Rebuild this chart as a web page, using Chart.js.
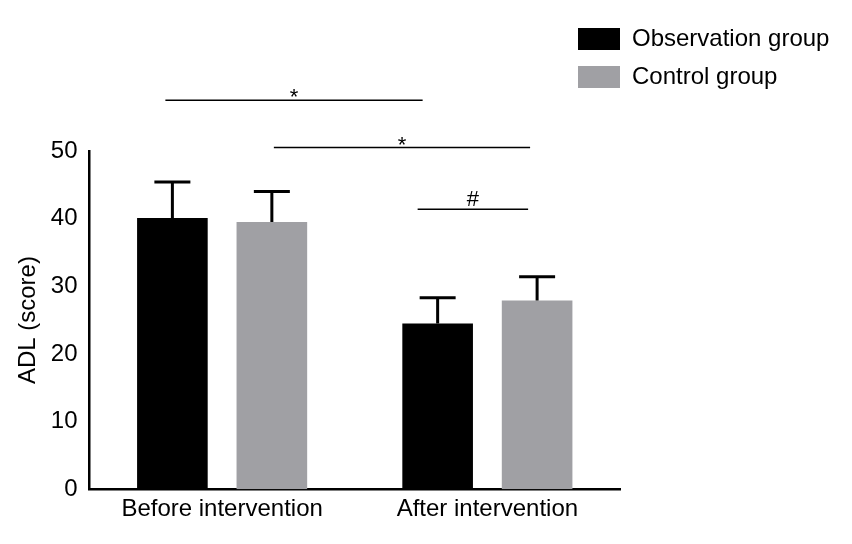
<!DOCTYPE html>
<html>
<head>
<script src="https://cdn.jsdelivr.net/npm/chart.js@4"></script>
<style>body{margin:0;background:#fff}#wrap{width:852px;height:544px}</style>
</head>
<body>
<div id="wrap"><canvas id="myChart"></canvas></div>
<script>
const categories = ['Before intervention', 'After intervention'];
const observation = [40.1, 24.5];
const observationSD = [5.3, 3.8];
const control = [39.5, 27.9];
const controlSD = [4.5, 3.5];
const yTicks = [0, 10, 20, 30, 40, 50];

const font = { family: 'Arial, Liberation Sans, sans-serif', size: 24 };

const extras = {
    id: 'extras',
    afterDatasetsDraw(chart) {
        const ctx = chart.ctx;
        const y = chart.scales.y;
        ctx.save();
        // error bars (upper half)
        [observationSD, controlSD].forEach((sd, di) => {
            const meta = chart.getDatasetMeta(di);
            meta.data.forEach((bar, i) => {
                const v = chart.data.datasets[di].data[i];
                const top = y.getPixelForValue(v + sd[i]);
                ctx.strokeStyle = '#000';
                ctx.lineWidth = 3;
                ctx.beginPath();
                ctx.moveTo(bar.x, bar.y);
                ctx.lineTo(bar.x, top);
                ctx.moveTo(bar.x - 18, top);
                ctx.lineTo(bar.x + 18, top);
                ctx.stroke();
            });
        });
        // significance lines
        const o = chart.getDatasetMeta(0).data, c = chart.getDatasetMeta(1).data;
        const sig = [
            [o[0].x - 7, o[1].x - 15, 57.5, '*'],
            [c[0].x + 2, c[1].x - 7, 50.5, '*'],
            [o[1].x - 20, c[1].x - 9, 41.4, '#']
        ];
        ctx.lineWidth = 1.5;
        ctx.fillStyle = '#000';
        ctx.font = '22px Arial, Liberation Sans, sans-serif';
        ctx.textAlign = 'center';
        sig.forEach(([x1, x2, v, t]) => {
            const py = y.getPixelForValue(v);
            ctx.beginPath();
            ctx.moveTo(x1, py);
            ctx.lineTo(x2, py);
            ctx.stroke();
            ctx.fillText(t, (x1 + x2) / 2, py - (t === '*' ? -4 : 3));
        });
        // legend
        const items = [['Observation group', '#000'], ['Control group', '#a0a0a4']];
        ctx.font = '24px Arial, Liberation Sans, sans-serif';
        ctx.textAlign = 'left';
        ctx.textBaseline = 'middle';
        items.forEach(([label, col], i) => {
            const ty = 39 + i * 38;
            ctx.fillStyle = col;
            ctx.fillRect(578, ty - 11, 42, 22);
            ctx.fillStyle = '#000';
            ctx.fillText(label, 632, ty);
        });
        ctx.restore();
    }
};

new Chart(document.getElementById('myChart'), {
    type: 'bar',
    data: {
        labels: categories,
        datasets: [
            { label: 'Observation group', data: observation, backgroundColor: '#000' },
            { label: 'Control group', data: control, backgroundColor: '#a0a0a4' }
        ]
    },
    options: {
        responsive: true,
        maintainAspectRatio: false,
        animation: false,
        layout: { padding: { top: 151, right: 232, bottom: 14, left: 10 } },
        plugins: { legend: { display: false }, tooltip: { enabled: false } },
        datasets: { bar: { categoryPercentage: 0.75, barPercentage: 0.71 } },
        scales: {
            x: {
                grid: { display: false, drawTicks: false },
                border: { color: '#000', width: 2.5 },
                ticks: { color: '#000', font: font, padding: 6 }
            },
            y: {
                min: 0, max: 50,
                afterBuildTicks: s => { s.ticks = yTicks.map(v => ({ value: v })); },
                grid: { display: false, drawOnChartArea: false, drawTicks: true, tickLength: 8, tickWidth: 2.5, tickColor: '#000' },
                border: { color: '#000', width: 2.5 },
                ticks: { color: '#000', font: font, padding: 4 },
                title: { display: true, text: 'ADL (score)', color: '#000', font: font }
            }
        }
    },
    plugins: [extras]
});
</script>
</body>
</html>
